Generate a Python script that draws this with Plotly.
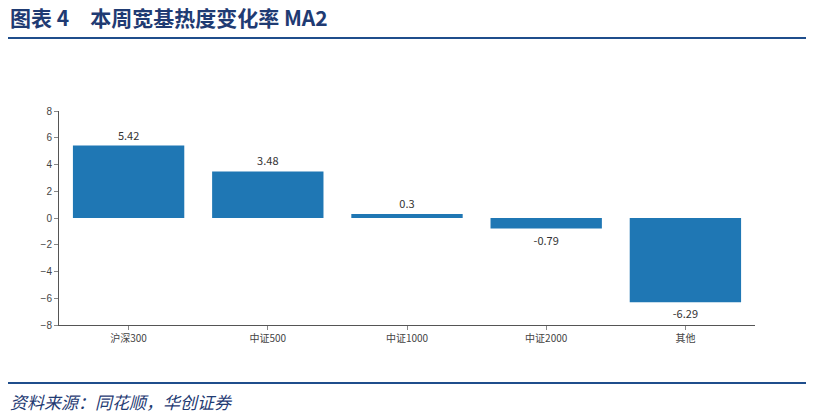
import plotly.graph_objects as go

categories = ["沪深300", "中证500", "中证1000", "中证2000", "其他"]
values = [5.42, 3.48, 0.3, -0.79, -6.29]
labels = ["5.42", "3.48", "0.3", "-0.79", "-6.29"]
y_ticks = [-8, -6, -4, -2, 0, 2, 4, 6, 8]

W, H = 814, 415
L, R, T, B = 59, 59, 111, 90
PW, PH = W - L - R, H - T - B

fig = go.Figure(go.Bar(
    x=categories, y=values, text=labels, textposition="outside",
    marker=dict(color="#1f77b4", line=dict(width=0)),
    width=0.8, cliponaxis=False,
    textfont=dict(family="Noto Sans CJK SC", size=11, color="#333333"),
))

fig.update_layout(
    width=W, height=H, margin=dict(l=L, r=R, t=T, b=B),
    paper_bgcolor="white", plot_bgcolor="white", showlegend=False,
    font=dict(family="Noto Sans CJK SC", color="#333333"),
    xaxis=dict(showline=True, linecolor="#555555", linewidth=1, ticks="outside",
               ticklen=4, tickcolor="#888888", tickfont=dict(size=10, color="#444444"),
               showgrid=False),
    yaxis=dict(range=[-8, 8], tickvals=y_ticks, showline=True, linecolor="#555555",
               linewidth=1, ticks="outside", ticklen=4, tickcolor="#888888",
               tickfont=dict(family="Liberation Sans", size=10, color="#444444"),
               showgrid=False, zeroline=False),
    annotations=[
        dict(text="<b>图表 4　本周宽基热度变化率 MA2</b>", xref="paper", yref="paper",
             x=(8 - L) / PW, y=1 + (T - 17) / PH,
             xanchor="left", yanchor="middle", showarrow=False,
             font=dict(family="Noto Sans CJK SC", size=21, color="#1F3B73")),
        dict(text="<i>资料来源：同花顺，华创证券</i>", xref="paper", yref="paper",
             x=(8 - L) / PW, y=-(401 - (H - B)) / PH,
             xanchor="left", yanchor="middle", showarrow=False,
             font=dict(family="Noto Sans CJK SC", size=17, color="#1F3B73")),
    ],
    shapes=[
        dict(type="line", xref="paper", yref="paper",
             x0=(8 - L) / PW, x1=(806 - L) / PW,
             y0=1 + (T - 38) / PH, y1=1 + (T - 38) / PH,
             line=dict(color="#1F4E8C", width=2)),
        dict(type="line", xref="paper", yref="paper",
             x0=(8 - L) / PW, x1=(806 - L) / PW,
             y0=-(383 - (H - B)) / PH, y1=-(383 - (H - B)) / PH,
             line=dict(color="#1F4E8C", width=2)),
    ],
)

fig.write_html("out.html", config={"displayModeBar": False},
               post_script="document.body.style.margin='0';document.body.style.overflow='hidden';")
